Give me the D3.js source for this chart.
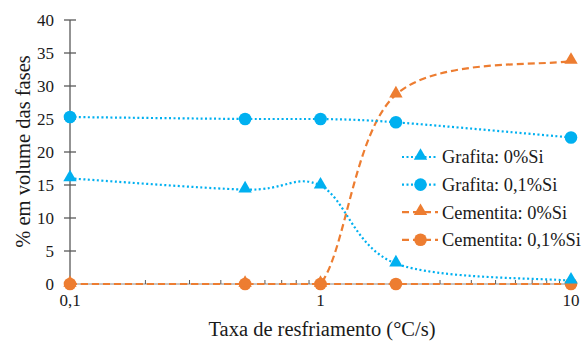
<!DOCTYPE html>
<html>
<head>
<meta charset="utf-8">
<script src="https://cdn.jsdelivr.net/npm/d3@7"></script>
<style>
  html, body { margin: 0; padding: 0; background: #fff; }
  svg text { font-family: "Liberation Serif", "Times New Roman", serif; fill: #1a1a1a; }
</style>
</head>
<body>
<svg id="chart" width="584" height="343"></svg>
<script>
// Cooling rates (°C/s)
const rates = [0.1, 0.5, 1, 2, 10];
// Phase volume fractions (%)
const grafita0Si  = [16.0, 14.3, 14.9, 3.1, 0.5];
const grafita01Si = [25.3, 25.0, 25.0, 24.5, 22.2];
const cementita0Si  = [0, 0, 0, 28.7, 33.8];
const cementita01Si = [0, 0, 0, 0, 0];
const seriesNames = ["Grafita: 0%Si", "Grafita: 0,1%Si", "Cementita: 0%Si", "Cementita: 0,1%Si"];
const yTicks = [0, 5, 10, 15, 20, 25, 30, 35, 40];
const xTicks = [0.1, 1, 10];

const blue = "#00B0F0", orange = "#ED7D31";
const series = [
  { name: seriesNames[0], values: grafita0Si,  color: blue,   dash: "2,2.5", marker: "triangle" },
  { name: seriesNames[1], values: grafita01Si, color: blue,   dash: "2,2.5", marker: "circle" },
  { name: seriesNames[2], values: cementita0Si,  color: orange, dash: "7,4", marker: "triangle" },
  { name: seriesNames[3], values: cementita01Si, color: orange, dash: "7,4", marker: "circle" }
];

// Smoothing curve: Catmull-Rom style Bezier segments; a segment whose ends
// share the same value stays level instead of overshooting.
function SmoothCurve(context) { this._context = context; }
SmoothCurve.prototype = {
  areaStart() { this._line = 0; },
  areaEnd() { this._line = NaN; },
  lineStart() { this._pts = []; },
  lineEnd() {
    const p = this._pts, n = p.length, c = this._context;
    if (!n) return;
    c.moveTo(p[0][0], p[0][1]);
    for (let i = 0; i < n - 1; i++) {
      const p0 = p[Math.max(i - 1, 0)], p1 = p[i], p2 = p[i + 1], p3 = p[Math.min(i + 2, n - 1)];
      let c1x = p1[0] + (p2[0] - p0[0]) / 6, c1y = p1[1] + (p2[1] - p0[1]) / 6;
      let c2x = p2[0] - (p3[0] - p1[0]) / 6, c2y = p2[1] - (p3[1] - p1[1]) / 6;
      if (Math.abs(p1[1] - p2[1]) < 1e-6) { c1y = p1[1]; c2y = p2[1]; }
      c.bezierCurveTo(c1x, c1y, c2x, c2y, p2[0], p2[1]);
    }
  },
  point(x, y) { this._pts.push([+x, +y]); }
};
const smoothCurve = context => new SmoothCurve(context);

const svg = d3.select("#chart");
const x = d3.scaleLog().domain([0.1, 10]).range([70, 571]);
const y = d3.scaleLinear().domain([0, 40]).range([284, 20]);

// Y axis with ticks crossing the line
const yAxis = svg.append("g");
yAxis.append("line").attr("x1", 70).attr("x2", 70).attr("y1", y(40)).attr("y2", y(0))
  .attr("stroke", "#595959").attr("stroke-width", 1.3);
yAxis.selectAll("line.tk").data(yTicks).join("line").attr("class", "tk")
  .attr("x1", 64).attr("x2", 76).attr("y1", d => y(d)).attr("y2", d => y(d))
  .attr("stroke", "#595959").attr("stroke-width", 1.3);
yAxis.selectAll("text").data(yTicks).join("text")
  .attr("x", 54).attr("y", d => y(d)).attr("dy", "0.35em")
  .attr("text-anchor", "end").attr("font-size", 17).text(d => d);

// X axis (log) with minor ticks pointing up
const minor = [];
[0.1, 1].forEach(b => { for (let k = 2; k <= 9; k++) minor.push(b * k); });
const xAxis = svg.append("g");
xAxis.append("line").attr("x1", x(0.1)).attr("x2", x(10)).attr("y1", y(0)).attr("y2", y(0))
  .attr("stroke", "#8c8c8c").attr("stroke-width", 1);
xAxis.selectAll("line.mn").data(minor.concat(xTicks)).join("line").attr("class", "mn")
  .attr("x1", d => x(d)).attr("x2", d => x(d)).attr("y1", y(0)).attr("y2", y(0) - 4)
  .attr("stroke", "#595959").attr("stroke-width", 1);
xAxis.selectAll("text").data(xTicks).join("text")
  .attr("x", d => x(d)).attr("y", 306).attr("text-anchor", "middle").attr("font-size", 17)
  .text(d => String(d).replace(".", ","));

// Axis titles
svg.append("text").attr("x", 322).attr("y", 336).attr("text-anchor", "middle")
  .attr("font-size", 20.5).text("Taxa de resfriamento (°C/s)");
svg.append("text").attr("transform", "translate(23,151.5) rotate(-90)").attr("text-anchor", "middle")
  .attr("dy", "0.35em").attr("font-size", 20.5).text("% em volume das fases");

// Smoothed series lines
const line = d3.line().x(d => x(d[0])).y(d => y(d[1])).curve(smoothCurve);
const triangle = d3.symbol().type(d3.symbolTriangle).size(78);
function drawMarker(g, kind, color) {
  if (kind === "circle") g.append("circle").attr("r", 6.3).attr("fill", color);
  else g.append("path").attr("d", triangle()).attr("transform", "translate(0,-1)").attr("fill", color);
}

const order = [3, 2, 1, 0];
order.forEach(i => {
  const s = series[i];
  const pts = rates.map((r, j) => [r, s.values[j]]);
  svg.append("path").attr("d", line(pts)).attr("fill", "none")
    .attr("stroke", s.color).attr("stroke-width", 2.2).attr("stroke-dasharray", s.dash);
});
order.forEach(i => {
  const s = series[i];
  const pts = rates.map((r, j) => [r, s.values[j]]);
  pts.forEach(p => {
    const g = svg.append("g").attr("transform", `translate(${x(p[0])},${y(p[1])})`);
    drawMarker(g, s.marker, s.color);
  });
});

// Legend
const leg = svg.append("g");
series.forEach((s, i) => {
  const ly = 157 + i * 27.6;
  const g = leg.append("g").attr("transform", `translate(0,${ly})`);
  g.append("line").attr("x1", 402).attr("x2", 438).attr("y1", 0).attr("y2", 0)
    .attr("stroke", s.color).attr("stroke-width", 2.2).attr("stroke-dasharray", s.dash);
  const m = g.append("g").attr("transform", "translate(420.5,0)");
  drawMarker(m, s.marker, s.color);
  g.append("text").attr("x", 442).attr("y", 0).attr("dy", "0.35em").attr("font-size", 18.4).text(s.name);
});
</script>
</body>
</html>
